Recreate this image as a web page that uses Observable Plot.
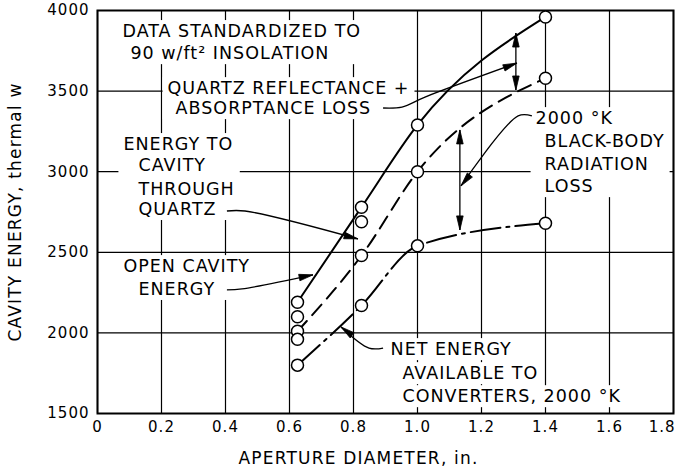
<!DOCTYPE html>
<html><head><meta charset="utf-8">
<script src="https://cdn.jsdelivr.net/npm/d3@7"></script>
<script src="https://cdn.jsdelivr.net/npm/@observablehq/plot@0.6"></script>
<style>
body{margin:0;background:#fff}
svg text{fill:#000}
g[aria-label="x-axis tick label"] text, g[aria-label="y-axis tick label"] text, .lastx text{letter-spacing:1px}
.annot text{letter-spacing:1px}
.titles text{letter-spacing:1.2px}
</style>
</head><body><div id="chart"></div>
<script>
// ---- data ----
const apertureIn = [0.625, 0.825, 1.0, 1.4];
const openCavityW = [2190, 2780, 3290, 3960];      // solid
const throughQuartzW = [2010, 2480, 3000, 3580];   // dashed
const netEnergyW = [1800, 2170, 2540, 2680];       // dash-dot
const extraApertureIn = [0.625, 0.625, 0.825];     // additional plotted circles
const extraW = [2100, 1960, 2690];

const xTicks = [0, 0.2, 0.4, 0.6, 0.8, 1.0, 1.2, 1.4, 1.6, 1.8];
const xTickLabels = ["0", "0.2", "0.4", "0.6", "0.8", "1.0", "1.2", "1.4", "1.6", "1.8"];
const yTicks = [1500, 2000, 2500, 3000, 3500, 4000];
const yTickLabels = ["1500", "2000", "2500", "3000", "3500", "4000"];

const xTitle = "APERTURE DIAMETER, in.";
const yTitle = "CAVITY ENERGY, thermal w";

// annotation text lines (left edge x, middle y, in data units) and background-box group
const annotText = ["DATA STANDARDIZED TO", "90 w/ft\u00B2 INSOLATION",
  "QUARTZ REFLECTANCE +", "ABSORPTANCE LOSS",
  "ENERGY TO", "CAVITY", "THROUGH", "QUARTZ",
  "OPEN CAVITY", "ENERGY",
  "2000 \u00B0K", "BLACK-BODY", "RADIATION", "LOSS",
  "NET ENERGY", "AVAILABLE TO", "CONVERTERS, 2000 \u00B0K"];
const annotX = [0.078, 0.103, 0.219, 0.244, 0.081, 0.128, 0.128, 0.128, 0.081, 0.128,
  1.369, 1.397, 1.397, 1.397, 0.916, 0.953, 0.953];
const annotY = [3870, 3733, 3516, 3392, 3169, 3039, 2890, 2766, 2412, 2270,
  3330, 3187, 3045, 2908, 1897, 1748, 1605];
const annotBox = ["A", "A", "B", "B", "C", "C", "C", "C", "D", "D",
  "E", "E", "E", "E", "F1", "F2", "F3"];

// leader lines (arrow tip is the last point)
const leaderQuartzLoss = [[0.894, 3392], [0.953, 3398], [1.025, 3460], [1.3125, 3671]];
const leaderBlackBody = [[1.359, 3343], [1.316, 3343], [1.1375, 2909]];
const leaderThroughQuartz = [[0.406, 2753], [0.4625, 2753], [0.8156, 2580]];
const leaderOpenCavity = [[0.406, 2264], [0.453, 2270], [0.675, 2357]];
const leaderNetEnergy = [[0.894, 1903], [0.85, 1903], [0.7625, 2034]];
const leaders = [leaderQuartzLoss, leaderBlackBody, leaderThroughQuartz, leaderOpenCavity, leaderNetEnergy];
// double-headed loss arrows: [x, top, bottom]
const lossArrows = [[1.309, 3857, 3504], [1.134, 3256, 2636]];

// ---- tables ----
const openRows = apertureIn.map((x, i) => ({x, y: openCavityW[i]}));
const quartzRows = apertureIn.map((x, i) => ({x, y: throughQuartzW[i]}));
const netRows = apertureIn.map((x, i) => ({x, y: netEnergyW[i]}));
const extraRows = extraApertureIn.map((x, i) => ({x, y: extraW[i]}));
const allPoints = [...openRows, ...quartzRows, ...netRows, ...extraRows];
const annotRows = annotText.map((t, i) => ({text: t, x: annotX[i], y: annotY[i], box: annotBox[i]}));
const lastX = xTicks[xTicks.length - 1];

function annotationArrows(index, scales) {
  const sx = scales.x, sy = scales.y;
  const g = d3.create("svg:g").attr("aria-label", "annotation arrows");
  const head = (p0, p1) => {
    const dx = p1[0] - p0[0], dy = p1[1] - p0[1], L = Math.hypot(dx, dy) || 1;
    const ux = dx / L, uy = dy / L, len = 14, hw = 3.3;
    const bx = p1[0] - ux * len, by = p1[1] - uy * len;
    g.append("path")
      .attr("d", `M${p1[0]},${p1[1]}L${bx - uy * hw},${by + ux * hw}L${bx + uy * hw},${by - ux * hw}Z`)
      .attr("fill", "black").attr("stroke", "black").attr("stroke-width", 0.8);
  };
  for (const ld of leaders) {
    const pts = ld.map(([x, y]) => [sx(x), sy(y)]);
    g.append("path").attr("d", d3.line().curve(d3.curveCatmullRom)(pts))
      .attr("fill", "none").attr("stroke", "black").attr("stroke-width", 1.3);
    head(pts[pts.length - 2], pts[pts.length - 1]);
  }
  for (const [x, t, b] of lossArrows) {
    const p0 = [sx(x), sy(t)], p1 = [sx(x), sy(b)];
    g.append("path").attr("d", `M${p0[0]},${p0[1]}L${p1[0]},${p1[1]}`)
      .attr("stroke", "black").attr("stroke-width", 1.3);
    head(p1, p0); head(p0, p1);
  }
  return g.node();
}

const font = '"DejaVu Sans", sans-serif';
const chart = Plot.plot({
  width: 676, height: 471,
  marginLeft: 97, marginRight: 3, marginTop: 10, marginBottom: 58,
  x: {domain: [0, 1.8]},
  y: {domain: [1500, 4000]},
  style: {fontFamily: font, background: "white", color: "black"},
  marks: [
    Plot.gridX(xTicks, {stroke: "black", strokeOpacity: 1, strokeWidth: 1.2}),
    Plot.gridY(yTicks, {stroke: "black", strokeOpacity: 1, strokeWidth: 1.2}),
    Plot.axisX(xTicks.slice(0, -1), {tickSize: 0, tickPadding: 8, fontSize: 15, label: null,
      tickFormat: d => xTickLabels[xTicks.indexOf(d)]}),
    Plot.text([lastX], {x: d => d, text: d => xTickLabels[xTicks.indexOf(d)], frameAnchor: "bottom",
      dy: 8, lineAnchor: "top", textAnchor: "end", dx: 2, fontSize: 15, className: "lastx"}),
    Plot.axisY(yTicks, {tickSize: 0, tickPadding: 8, fontSize: 15, label: null,
      tickFormat: d => yTickLabels[yTicks.indexOf(d)]}),
    Plot.text([xTitle], {text: d => d, frameAnchor: "bottom", dy: 45, dx: -27, lineAnchor: "middle",
      textAnchor: "middle", fontSize: 17, className: "titles"}),
    Plot.text([yTitle], {text: d => d, frameAnchor: "left", rotate: -90, dx: -82, lineAnchor: "middle",
      textAnchor: "middle", fontSize: 17, className: "titles"}),
    Plot.text(annotRows, {x: "x", y: "y", text: "text", textAnchor: "start", lineAnchor: "middle", fontSize: 17.5, className: "annot"}),
    Plot.frame({stroke: "black", strokeWidth: 2}),
    Plot.line(openRows, {x: "x", y: "y", curve: "monotone-x", stroke: "black", strokeWidth: 2}),
    Plot.line(quartzRows, {x: "x", y: "y", curve: "monotone-x", stroke: "black", strokeWidth: 2, strokeDasharray: "14,8"}),
    Plot.line(netRows, {x: "x", y: "y", curve: "monotone-x", stroke: "black", strokeWidth: 2, strokeDasharray: "30,6,3,6"}),
    annotationArrows,
    Plot.dot(allPoints, {x: "x", y: "y", r: 6, fill: "white", stroke: "black", strokeWidth: 1.5})
  ]
});
document.getElementById("chart").append(chart);

// white boxes behind annotation blocks (they interrupt the grid, as in the original)
const boxOf = new Map(annotRows.map(d => [d.text, d.box]));
const svgRect = chart.getBoundingClientRect();
const groups = new Map();
let parentG = null;
for (const t of chart.querySelectorAll("text")) {
  const key = boxOf.get(t.textContent);
  if (!key) continue;
  parentG = t.parentNode;
  const r = t.getBoundingClientRect();
  const b = {x0: r.left - svgRect.left, x1: r.right - svgRect.left, y0: r.top - svgRect.top, y1: r.bottom - svgRect.top};
  const u = groups.get(key);
  groups.set(key, u ? {x0: Math.min(u.x0, b.x0), x1: Math.max(u.x1, b.x1), y0: Math.min(u.y0, b.y0), y1: Math.max(u.y1, b.y1)} : b);
}
if (parentG) {
  for (const [, b] of groups) {
    const rect = document.createElementNS("http://www.w3.org/2000/svg", "rect");
    rect.setAttribute("x", b.x0 - 5); rect.setAttribute("y", b.y0 - 1);
    rect.setAttribute("width", b.x1 - b.x0 + 10); rect.setAttribute("height", b.y1 - b.y0 + 2);
    rect.setAttribute("fill", "white");
    parentG.parentNode.insertBefore(rect, parentG);
  }
}
</script>
</body></html>
